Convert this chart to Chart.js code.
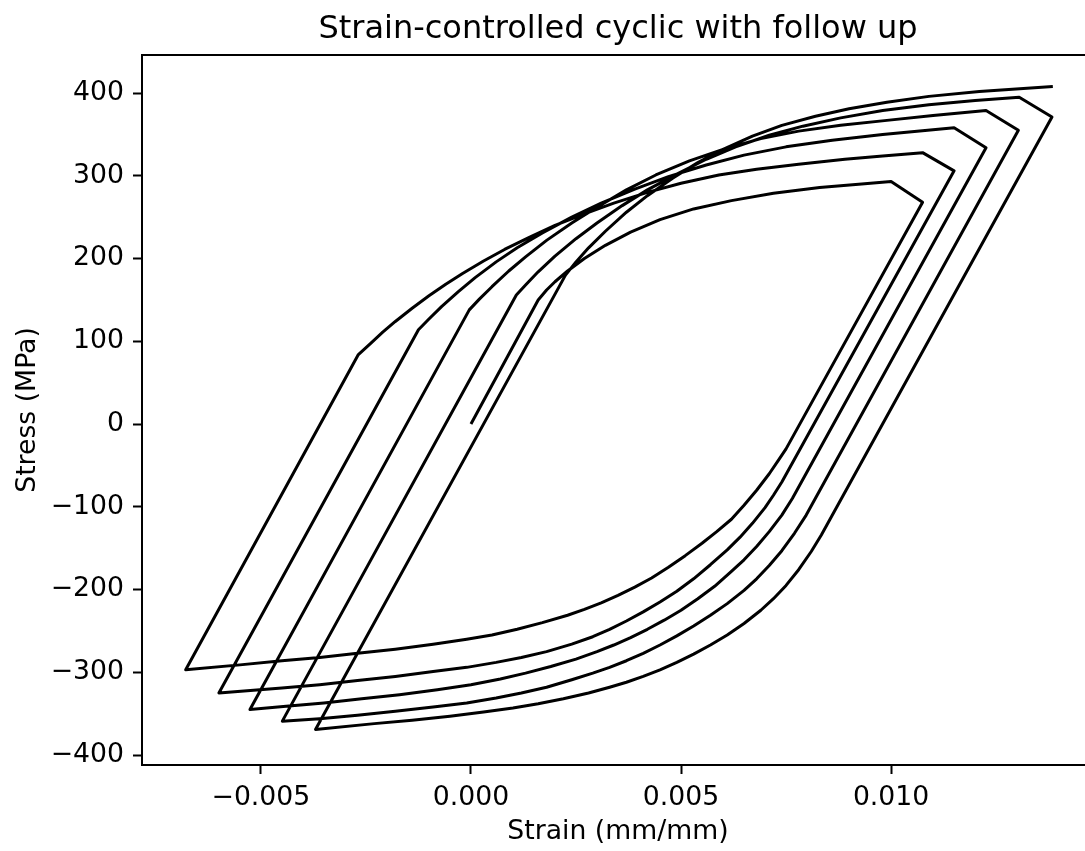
<!DOCTYPE html>
<html>
<head>
<meta charset="utf-8">
<title>Strain-controlled cyclic with follow up</title>
<script src="https://cdn.jsdelivr.net/npm/chart.js@4.4.1/dist/chart.umd.min.js"></script>
<style>
  html, body { margin: 0; padding: 0; background: #fff; overflow: hidden; }
  #wrap { width: 1100px; height: 851px; }
</style>
</head>
<body>
<div id="wrap"><canvas id="hysteresisChart" width="1100" height="851"></canvas></div>
<script>
// strain in mm/mm, stress in MPa

// first loading from zero up to the first peak
const initStrain = [0, 0.0016, 0.0018, 0.0020, 0.0023, 0.0027, 0.0032, 0.0038, 0.0045, 0.0053, 0.0062, 0.0072, 0.0083, 0.0093, 0.0100];
const initStress = [0, 150, 162, 172, 185, 200, 216, 232, 247, 260, 270, 279, 286, 290, 293];

// unloading branches: follow-up end -> valley
const unloadStrain = [
  [0.01075, 0.0075, 0.0073, 0.0071, 0.0068, 0.0065, 0.0062, 0.00585, 0.0055, 0.0051, 0.0047, 0.0043, 0.0039, 0.0035, 0.0031, 0.0027, 0.0023, 0.0017, 0.0011, 0.0005, -0.0001, -0.0009, -0.0018, -0.0027, -0.0036, -0.0045, -0.0055, -0.00679],
  [0.0115, 0.0074, 0.0072, 0.0070, 0.0067, 0.0064, 0.0061, 0.0057, 0.0053, 0.0049, 0.0045, 0.0041, 0.0037, 0.0033, 0.0029, 0.0024, 0.0018, 0.0012, 0.0006, -0.0001, -0.0009, -0.0018, -0.0027, -0.0036, -0.0045, -0.0060],
  [0.01226, 0.00765, 0.0074, 0.0071, 0.0068, 0.0065, 0.0062, 0.0058, 0.0054, 0.0050, 0.0046, 0.0042, 0.0038, 0.0034, 0.0030, 0.0025, 0.0019, 0.0013, 0.0007, 0.0, -0.0008, -0.0017, -0.0026, -0.0035, -0.0044, -0.00526],
  [0.01303, 0.00798, 0.0077, 0.0074, 0.0071, 0.0068, 0.0065, 0.0061, 0.0057, 0.0053, 0.0049, 0.0045, 0.0041, 0.0037, 0.0033, 0.0029, 0.0024, 0.0018, 0.0012, 0.0006, -0.0001, -0.0009, -0.0018, -0.0027, -0.0036, -0.00449],
  [0.01383, 0.00834, 0.0081, 0.0078, 0.0075, 0.0072, 0.0069, 0.0065, 0.0061, 0.0057, 0.0053, 0.0049, 0.0045, 0.0041, 0.0037, 0.0033, 0.0028, 0.0022, 0.0016, 0.0010, 0.0003, -0.0005, -0.0014, -0.0023, -0.0037]
];
const unloadStress = [
  [268, -30, -45, -60, -80, -98, -115, -130, -144, -159, -173, -186, -197, -207, -216, -224, -231, -240, -248, -255, -260, -266, -272, -277, -282, -286, -291, -297],
  [306, -70, -86, -101, -120, -137, -152, -170, -187, -202, -215, -227, -238, -248, -257, -266, -275, -282, -288, -294, -299, -305, -310, -315, -319, -325],
  [334, -90, -110, -130, -148, -164, -178, -196, -211, -225, -237, -248, -258, -267, -275, -284, -293, -301, -308, -315, -321, -327, -332, -337, -341, -345],
  [355, -110, -132, -153, -171, -187, -201, -217, -231, -244, -256, -267, -277, -286, -294, -301, -309, -318, -325, -331, -337, -342, -347, -352, -356, -359],
  [371, -134, -154, -176, -195, -211, -225, -241, -255, -267, -278, -288, -297, -305, -312, -318, -325, -332, -338, -343, -348, -353, -358, -362, -369]
];

// reloading branches: valley -> next peak (last one is the end of the test)
const reloadStrain = [
  [-0.00679, -0.00268, -0.0024, -0.0021, -0.0018, -0.0014, -0.0010, -0.0006, -0.0002, 0.0003, 0.0008, 0.0014, 0.0020, 0.0027, 0.0034, 0.0042, 0.0050, 0.0059, 0.0068, 0.0078, 0.0089, 0.0098, 0.01075],
  [-0.0060, -0.00125, -0.0010, -0.0007, -0.0003, 0.0001, 0.0006, 0.0011, 0.0017, 0.0024, 0.0031, 0.0039, 0.0047, 0.0056, 0.0065, 0.0075, 0.0086, 0.0098, 0.0115],
  [-0.00526, -0.00004, 0.0002, 0.0005, 0.0009, 0.0013, 0.0018, 0.0024, 0.0030, 0.0037, 0.0044, 0.0052, 0.0060, 0.0069, 0.0078, 0.0088, 0.0099, 0.0110, 0.01226],
  [-0.00449, 0.00108, 0.0013, 0.0016, 0.0020, 0.0025, 0.0030, 0.0036, 0.0042, 0.0049, 0.0056, 0.0063, 0.0071, 0.0079, 0.0088, 0.0098, 0.0109, 0.0120, 0.01305],
  [-0.0037, 0.00225, 0.0025, 0.0028, 0.0032, 0.0037, 0.0042, 0.0048, 0.0054, 0.0060, 0.0067, 0.0074, 0.0082, 0.0090, 0.0099, 0.0109, 0.0121, 0.01385]
];
const reloadStress = [
  [-297, 84, 97, 111, 124, 140, 155, 169, 182, 197, 211, 226, 240, 254, 267, 280, 291, 301, 308, 314, 320, 324, 328],
  [-325, 114, 127, 142, 160, 177, 196, 213, 231, 250, 267, 284, 299, 313, 325, 335, 343, 350, 358],
  [-345, 138, 151, 166, 185, 202, 222, 243, 262, 283, 301, 318, 332, 345, 354, 361, 367, 373, 379],
  [-359, 156, 168, 184, 203, 224, 243, 264, 283, 302, 320, 335, 349, 360, 370, 379, 386, 391, 395],
  [-369, 180, 196, 213, 233, 256, 276, 297, 316, 332, 348, 361, 372, 381, 389, 396, 402, 408]
];

const xTicks = [-0.005, 0.0, 0.005, 0.010];
const yTicks = [-400, -300, -200, -100, 0, 100, 200, 300, 400];

function minusSign(s) {
  return s.replace('-', '\u2212');
}

// one continuous path, in test order
let path = [];
initStrain.forEach((e, i) => path.push({x: e, y: initStress[i]}));
for (let k = 0; k < unloadStrain.length; k++) {
  unloadStrain[k].forEach((e, i) => path.push({x: e, y: unloadStress[k][i]}));
  reloadStrain[k].forEach((e, i) => path.push({x: e, y: reloadStress[k][i]}));
}

Chart.defaults.font.family = "'DejaVu Sans', sans-serif";
Chart.defaults.color = '#000';

let ctx = document.getElementById('hysteresisChart');
let chart = new Chart(ctx, {
  type: 'scatter',
  data: {
    datasets: [{
      data: path,
      showLine: true,
      borderColor: '#000',
      borderWidth: 3,
      borderJoinStyle: 'round',
      pointRadius: 0,
      pointHoverRadius: 0,
      tension: 0
    }]
  },
  options: {
    responsive: false,
    devicePixelRatio: 1,
    animation: false,
    layout: { padding: { left: 0, right: 6, top: 0, bottom: 0 } },
    plugins: {
      legend: { display: false },
      tooltip: { enabled: false },
      title: {
        display: true,
        fullSize: false,
        text: 'Strain-controlled cyclic with follow up',
        color: '#000',
        font: { size: 32, weight: 'normal' },
        padding: { top: 10, bottom: 6.6 }
      }
    },
    scales: {
      x: {
        type: 'linear',
        position: 'bottom',
        min: -0.00783,
        max: 0.01483,
        afterBuildTicks: axis => { axis.ticks = xTicks.map(v => ({ value: v })); },
        afterFit: axis => { axis.height = 86; },
        grid: { drawOnChartArea: false, drawTicks: true, tickLength: 9, tickWidth: 2, tickColor: '#000' },
        border: { display: true, color: '#000', width: 2 },
        ticks: {
          color: '#000',
          font: { size: 26.7 },
          padding: 8,
          maxRotation: 0,
          autoSkip: false,
          callback: v => minusSign(v.toFixed(3))
        },
        title: {
          display: true,
          text: 'Strain (mm/mm)',
          color: '#000',
          font: { size: 26.7 },
          padding: { top: 0, bottom: 3 }
        }
      },
      y: {
        type: 'linear',
        position: 'left',
        min: -412,
        max: 446,
        afterBuildTicks: axis => { axis.ticks = yTicks.map(v => ({ value: v })); },
        afterFit: axis => { axis.width = 142; },
        grid: { drawOnChartArea: false, drawTicks: true, tickLength: 9, tickWidth: 2, tickColor: '#000' },
        border: { display: true, color: '#000', width: 2 },
        ticks: {
          color: '#000',
          font: { size: 26.7 },
          padding: 9,
          autoSkip: false,
          callback: v => minusSign(String(v))
        },
        title: {
          display: true,
          text: 'Stress (MPa)',
          color: '#000',
          font: { size: 26.7 },
          padding: { top: 12, bottom: 0 }
        }
      },
      xTop: {
        type: 'linear',
        position: 'top',
        min: -0.00783,
        max: 0.01483,
        afterFit: axis => { axis.height = 0; },
        grid: { drawOnChartArea: false, drawTicks: false },
        border: { display: true, color: '#000', width: 2 },
        ticks: { display: false }
      },
      yRight: {
        type: 'linear',
        position: 'right',
        min: -412,
        max: 446,
        afterFit: axis => { axis.width = 0; },
        grid: { drawOnChartArea: false, drawTicks: false },
        border: { display: true, color: '#000', width: 2 },
        ticks: { display: false }
      }
    }
  }
});
</script>
</body>
</html>
